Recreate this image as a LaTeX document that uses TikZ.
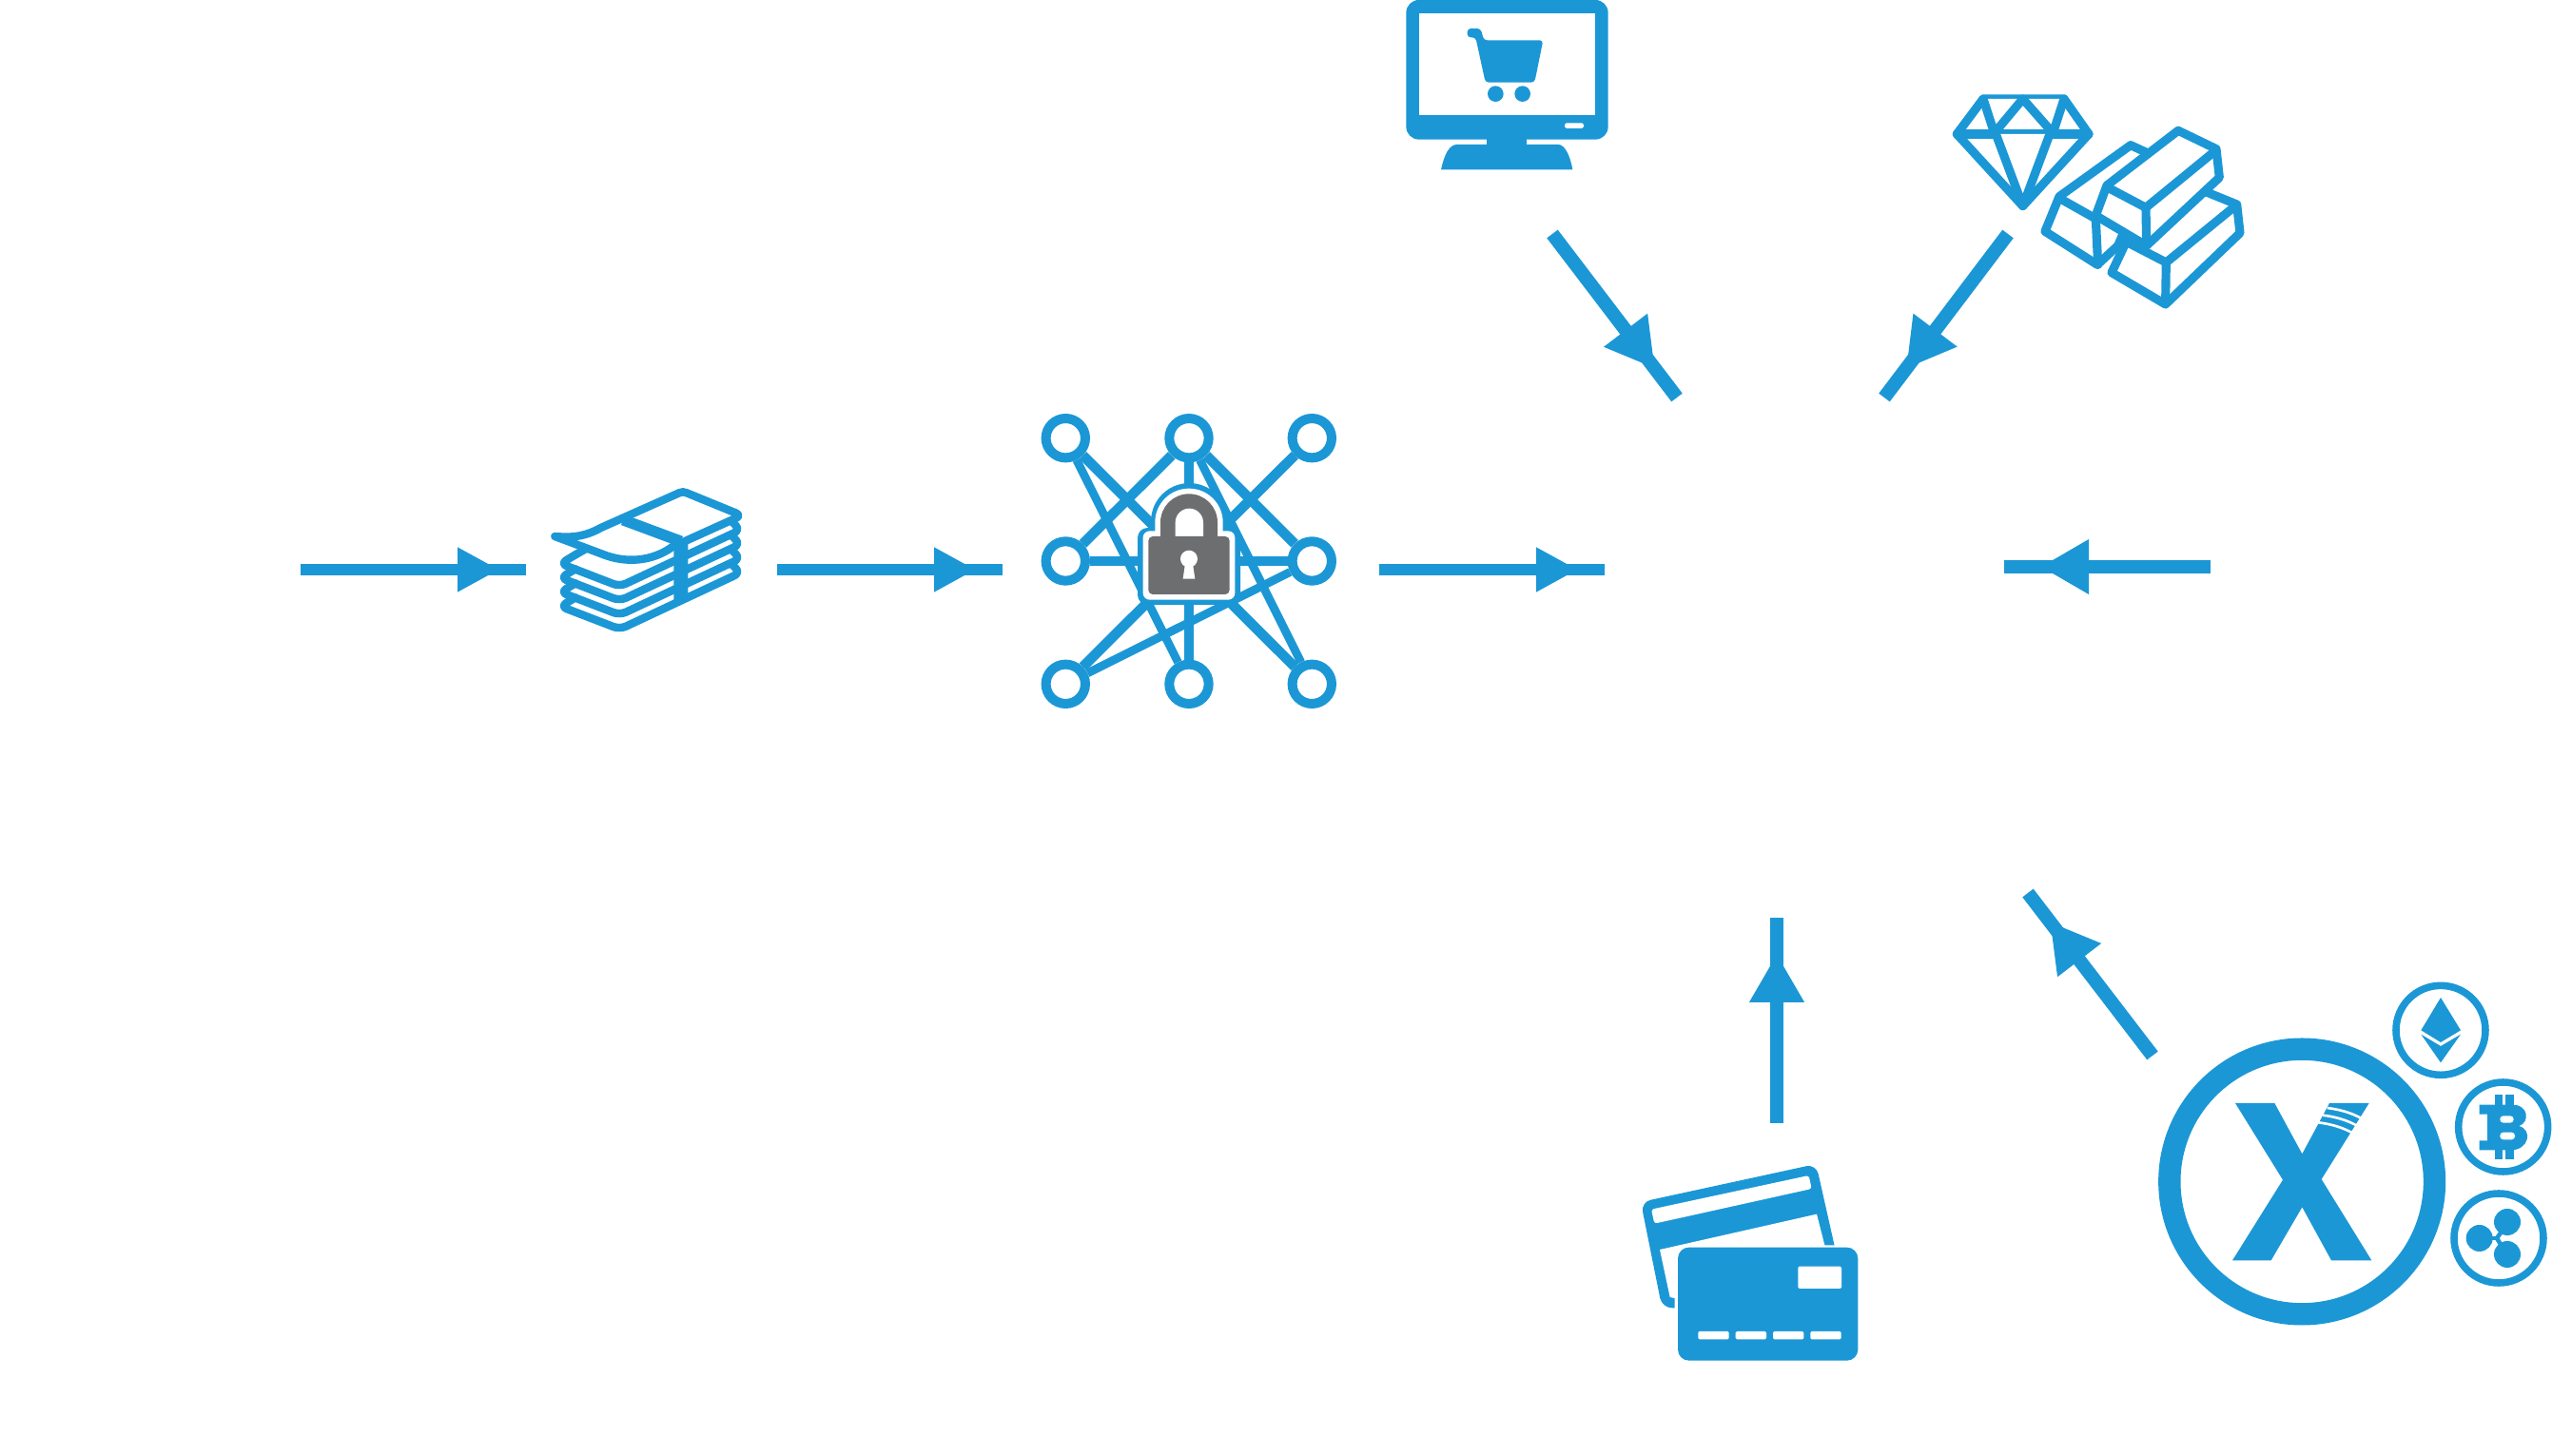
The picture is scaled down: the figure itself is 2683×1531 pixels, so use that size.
\documentclass[tikz,border=0pt]{standalone}
\usepackage{tikz}
\usetikzlibrary{arrows.meta, decorations.markings}
\definecolor{azure}{RGB}{28,151,214}
\definecolor{lockgrey}{RGB}{109,110,112}

\begin{document}
\begin{tikzpicture}[
    x=0.01cm, y=-0.01cm,
    hub/.style={circle, draw=azure, fill=white, line width=2.85pt, minimum size=11.76pt, inner sep=0pt},
    spoke/.style={azure, line width=3pt},
    thinspoke/.style={azure, line width=2.5pt},
    flow/.style={color=azure, line width=3.4pt, postaction={decorate},
                 decoration={markings, mark=at position #1 with {\arrow{Triangle[length=12.2pt,width=13.4pt,line width=0pt]}}}},
    bigflow/.style={color=azure, line width=4.1pt, postaction={decorate},
                 decoration={markings, mark=at position #1 with {\arrow{Triangle[length=14.2pt,width=16.5pt,line width=0pt]}}}},
    outline/.style={draw=azure, line width=2.4pt, line join=round, line cap=round},
    bar/.style={draw=azure, fill=white, line width=2.6pt, line join=round, line cap=round},
    coin/.style={draw=azure, line width=2.15pt}
]
\useasboundingbox (0,0) rectangle (2683,1531);

\foreach \name/\x/\y in {inA/316/599, inB/553/599, cashA/817/599, cashB/1054/599, netA/1450/599, netB/1687/599,
                         goldA/2324/596, goldB/2107/596, shopA/1632/246, shopB/1763/418, gemA/2111/246, gemB/1981/418,
                         cardA/1868/1181, cardB/1868/965, coinA/2263/1110, coinB/2132/939}
    \coordinate (\name) at (\x,\y);

\foreach \from/\to in {inA/inB, cashA/cashB, netA/netB}
    \draw[flow=0.878] (\from) -- (\to);
\foreach \from/\to in {goldA/goldB, shopA/shopB, gemA/gemB, cardA/cardB, coinA/coinB}
    \draw[bigflow=0.82] (\from) -- (\to);

\begin{scope}[shift={(560,480)}, scale=1/3]
\foreach \k in {3,2,1,0}
    \draw[outline, rounded corners=2pt] (135,{310+45*\k}) -- (88,{338+45*\k}) -- (275,{410+45*\k})
        -- (655,{232+45*\k}) -- (628,{205+45*\k});
\draw[outline] (135,310) -- (170,290);
\draw[outline, fill=white] (70,252) .. controls (130,258) and (170,250) .. (215,225)
    -- (462,115) .. controls (470,111) and (478,111) .. (486,115)
    -- (640,178) .. controls (652,183) and (652,190) .. (640,195)
    -- (470,272) -- (445,282) .. controls (375,335) and (290,335) .. (225,310) -- cycle;
\fill[azure] (445,270) -- (490,262) -- (490,440) -- (445,462) -- cycle;
\draw[azure, line width=3.3pt] (285,200) -- (468,268);
\end{scope}

\foreach \name/\x/\y in {nTL/1120.3/460.7, nTC/1250/460.7, nTR/1379.3/460.7,
                         nML/1120.3/590, nMR/1379.3/590,
                         nBL/1120.3/719.3, nBC/1250/719.3, nBR/1379.3/719.3}
    \node[hub] (\name) at (\x,\y) {};
\foreach \from/\to in {nTL/nBR, nTR/nBL, nTC/nML, nTC/nMR, nML/nMR, nTC/nBC}
    \draw[spoke] (\from) -- (\to);
\foreach \from/\to in {nTL/nBC, nTC/nBR, nBL/nMR}
    \draw[thinspoke] (\from) -- (\to);

\begin{scope}[shift={(1070,420)}, scale=1/3]
\fill[azure, rounded corners=3pt] (378,648) -- (378,405) -- (702,405) -- (702,648) -- cycle;
\fill[azure] (420,420) -- (420,385) arc[start angle=180, end angle=360, radius=121] -- (661,420) -- cycle;
\fill[white, rounded corners=2pt] (395,632) -- (395,415) -- (685,415) -- (685,632) -- cycle;
\fill[white] (433,425) -- (433,388) arc[start angle=180, end angle=360, radius=107] -- (647,425) -- cycle;
\fill[lockgrey] (450,440) -- (450,388) arc[start angle=180, end angle=360, radius=90] -- (630,440) -- cycle;
\fill[white] (497,440) -- (497,388) arc[start angle=180, end angle=360, radius=44] -- (585,440) -- cycle;
\fill[lockgrey, rounded corners=1.3pt] (412,615) -- (412,432) -- (668,432) -- (668,615) -- cycle;
\fill[white] (540,503) circle[radius=27];
\fill[white] (527,525) -- (553,525) -- (559,566) -- (521,566) -- cycle;
\end{scope}

\begin{scope}[shift={(1460,0)}, scale=1/3]
\fill[azure, rounded corners=3.8pt] (55,0) rectangle (692,440);
\fill[white] (96,43) rectangle (650,362);
\fill[white, rounded corners=0.5pt] (555,388) rectangle (615,405);
\fill[azure] (310,430) rectangle (436,470);
\fill[azure] (165,535) .. controls (175,490) and (190,456) .. (215,456) -- (535,456)
    .. controls (555,456) and (572,490) .. (580,535) -- cycle;
\fill[azure, rounded corners=1pt] (248,90) -- (290,90) -- (300,127) -- (487,127) -- (460,260) -- (305,260) -- (274,118) -- (248,118) -- cycle;
\fill[azure] (337,296) circle[radius=25];
\fill[azure] (422,296) circle[radius=25];
\end{scope}

\begin{scope}[shift={(2040,90)}, scale=1/3]
\draw[bar] (135,42) -- (390,42) -- (468,153) -- (260,380) -- (52,153) -- cycle;
\draw[bar] (52,153) -- (468,153);
\draw[bar] (135,42) -- (170,150) -- (260,42) -- (355,150) -- (390,42);
\draw[bar] (175,153) -- (260,380) -- (345,153);
\draw[bar] (375,350) -- (600,188) -- (680,225) -- (560,505) -- (495,565) -- (330,460) -- cycle;
\draw[bar] (375,355) -- (490,420) -- (497,565);
\draw[bar] (585,495) -- (800,320) -- (935,375) -- (945,465) -- (710,690) -- (540,590) -- cycle;
\draw[bar] (585,492) -- (712,558) -- (710,685);
\draw[bar] (712,558) -- (930,380);
\draw[bar] (525,315) -- (750,142) -- (870,200) -- (880,290) -- (650,505) -- (490,410) -- cycle;
\draw[bar] (525,320) -- (648,385) -- (650,500);
\draw[bar] (648,385) -- (868,205);
\end{scope}

\begin{scope}[shift={(1710,1210)}, scale=1/3]
\fill[azure, rounded corners=3pt] (45,162) -- (598,42) -- (665,340) -- (665,496) -- (112,496) -- cycle;
\fill[white] (105,312) -- (600,200) -- (625,298) -- (680,298) -- (680,520) -- (152,520) -- (152,465) -- (137,462) -- cycle;
\fill[white, rounded corners=0.8pt] (78,185) -- (575,78) -- (584,120) -- (88,230) -- cycle;
\fill[azure, rounded corners=3.3pt] (162,305) rectangle (730,662);
\fill[white, rounded corners=0.4pt] (541,365) rectangle (678,435);
\foreach \x in {226,344,462,580}
    \fill[white, rounded corners=0.4pt] (\x,570) rectangle ({\x+97},595);
\end{scope}

\begin{scope}[shift={(2250,1020)}, scale=1/3]
\draw[azure, line width=6.64pt] (510.5,667.5) circle[radius=418];
\fill[azure] (300,420) -- (424,420) -- (511,580) -- (597,420) -- (722,420) -- (572,660) -- (730,916) -- (603,916)
    -- (511,748) -- (413,916) -- (291,916) -- (450,662) -- cycle;
\draw[white, line width=0.75pt] (590,435) .. controls (630,440) and (665,450) .. (698,468);
\draw[white, line width=0.75pt] (576,458) .. controls (616,463) and (651,473) .. (684,491);
\draw[white, line width=0.75pt] (562,481) .. controls (602,486) and (637,496) .. (670,514);
\draw[coin] (948,190) circle[radius=141];
\draw[coin] (1145,495) circle[radius=141];
\draw[coin] (1131,846) circle[radius=141];
\fill[azure] (948,87) -- (1011,190) -- (948,228) -- (886,190) -- cycle;
\fill[azure] (886,203) -- (948,240) -- (1011,203) -- (948,292) -- cycle;
\fill[azure] (1120,393) rectangle (1143,430);
\fill[azure] (1153,393) rectangle (1178,430);
\fill[azure] (1120,560) rectangle (1143,597);
\fill[azure] (1153,560) rectangle (1178,597);
\fill[azure] (1070,425) -- (1175,425) .. controls (1225,425) and (1230,480) .. (1195,492)
    .. controls (1240,505) and (1225,568) .. (1170,568) -- (1070,568) -- (1070,538) -- (1095,538)
    -- (1095,455) -- (1070,455) -- cycle;
\fill[white, rounded corners=1pt] (1135,460) rectangle (1178,482);
\fill[white, rounded corners=1pt] (1135,512) rectangle (1182,535);
\foreach \x/\y in {1158/795, 1070/846, 1158/897}
    \fill[azure] (\x,\y) circle[radius=42];
\draw[azure, line width=1.3pt] (1100,846) -- (1130,846);
\draw[azure, line width=1.3pt] (1140,825) -- (1125,846) -- (1140,870);
\fill[white] (1157,846) circle[radius=9];
\end{scope}
\end{tikzpicture}
\end{document}
